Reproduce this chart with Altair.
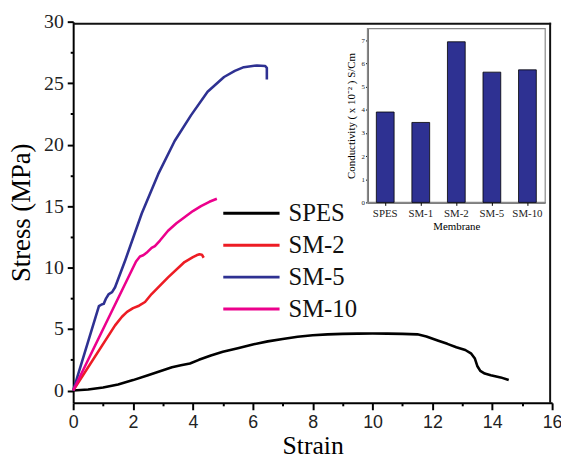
import altair as alt
import pandas as pd

# ---------------- data ----------------
series_names = ["SPES", "SM-2", "SM-5", "SM-10"]
series_colors = ["#000000", "#ed1c24", "#2e3192", "#ec008c"]

spes_x = [0, 0.5, 1.0, 1.5, 2.0, 2.5, 3.0, 3.3, 3.6, 3.9, 4.2, 4.6, 5.0, 5.5, 6.0, 6.5, 7.0, 7.5, 8.0, 8.5, 9.0, 9.5, 10.0, 10.5, 11.0, 11.5, 11.8, 12.2, 12.5, 12.8, 13.1, 13.3, 13.42, 13.5, 13.6, 13.75, 13.95, 14.28, 14.55]
spes_y = [0, 0.08, 0.25, 0.5, 0.85, 1.25, 1.65, 1.9, 2.05, 2.2, 2.5, 2.85, 3.15, 3.45, 3.75, 4.0, 4.2, 4.38, 4.5, 4.57, 4.61, 4.63, 4.64, 4.63, 4.61, 4.57, 4.4, 4.05, 3.8, 3.52, 3.3, 3.0, 2.6, 2.0, 1.6, 1.38, 1.25, 1.07, 0.86]

sm2_x = [0, 1.4, 1.63, 1.8, 2.0, 2.2, 2.4, 2.62, 3.17, 3.72, 4.0, 4.12, 4.22, 4.3, 4.36]
sm2_y = [0, 5.3, 6.0, 6.4, 6.7, 6.9, 7.2, 7.85, 9.2, 10.45, 10.85, 11.0, 11.08, 11.05, 10.8]

sm5_x = [0, 0.86, 0.95, 1.02, 1.1, 1.19, 1.3, 1.4, 1.74, 2.29, 2.84, 3.39, 3.94, 4.49, 5.04, 5.4, 5.70, 6.14, 6.41, 6.47, 6.47]
sm5_y = [0, 6.86, 7.0, 7.05, 7.5, 7.85, 8.0, 8.4, 10.6, 14.4, 17.6, 20.3, 22.4, 24.3, 25.5, 26.0, 26.3, 26.44, 26.4, 26.25, 25.3]

sm10_x = [0, 2.1, 2.23, 2.34, 2.45, 2.62, 2.73, 2.9, 3.17, 3.45, 3.72, 4.0, 4.27, 4.55, 4.80]
sm10_y = [0, 10.5, 10.9, 11.0, 11.2, 11.6, 11.75, 12.2, 13.0, 13.6, 14.1, 14.6, 15.0, 15.35, 15.6]

membranes = ["SPES", "SM-1", "SM-2", "SM-5", "SM-10"]
conductivity = [3.9, 3.45, 6.93, 5.62, 5.72]

x_ticks = list(range(0, 17))
y_ticks = [i * 2.5 for i in range(13)]

# ---------------- tables ----------------
rows = []
for name, xs, ys in [("SPES", spes_x, spes_y), ("SM-2", sm2_x, sm2_y),
                     ("SM-5", sm5_x, sm5_y), ("SM-10", sm10_x, sm10_y)]:
    for i, (a, b) in enumerate(zip(xs, ys)):
        rows.append({"series": name, "strain": a, "stress": b, "idx": i})
df_lines = pd.DataFrame(rows)
df_leg = pd.DataFrame({"series": series_names})
df_one = pd.DataFrame({"k": [1]})
df_bar = pd.DataFrame({"membrane": membranes, "cond": conductivity})

W, H = 485, 386
color = alt.Color("series:N", scale=alt.Scale(domain=series_names, range=series_colors), legend=None)

lines = alt.Chart(df_lines).mark_line(strokeWidth=2.6, strokeJoin="round").encode(
    x=alt.X("strain:Q",
            scale=alt.Scale(domain=[0, 16], nice=False, zero=False),
            axis=alt.Axis(orient="bottom", values=x_ticks, title="Strain",
                          labelExpr="datum.value % 2 === 0 ? datum.label : ''",
                          tickSize={"condition": {"test": "datum.value % 2 === 0", "value": 7}, "value": 3},
                          labelPadding=4, labelFont="Liberation Sans", labelFontSize=18,
                          labelFlush=False,
                          titleFont="Liberation Serif", titleFontSize=26, titleFontWeight="normal",
                          titlePadding=1, labelOverlap=False, grid=False,
                          domainColor="black", domainWidth=2, tickColor="black", tickWidth=2,
                          labelColor="#222")),
    y=alt.Y("stress:Q",
            scale=alt.Scale(domain=[-1, 30], nice=False, zero=False),
            axis=alt.Axis(orient="left", values=y_ticks, title="Stress (MPa)",
                          labelExpr="datum.value % 5 === 0 ? datum.label : ''",
                          tickSize={"condition": {"test": "datum.value % 5 === 0", "value": 6}, "value": 3},
                          labelPadding=4, labelFont="Liberation Serif", labelFontSize=20,
                          labelFlush=False,
                          titleFont="Liberation Serif", titleFontSize=27, titleFontWeight="normal",
                          titlePadding=8, labelOverlap=False, grid=False,
                          domainColor="black", domainWidth=2, tickColor="black", tickWidth=2,
                          labelColor="#222")),
    color=color,
    order=alt.Order("idx:Q"),
    detail="series:N",
)

leg_y = alt.Y("series:N", scale=alt.Scale(type="point", domain=series_names, range=[194, 291], padding=0), axis=None)

leg_rules = alt.Chart(df_leg).mark_rule(strokeWidth=3).encode(
    x=alt.value(152), x2=alt.value(209), y=leg_y, color=color)

leg_text = alt.Chart(df_leg).mark_text(align="left", baseline="middle", font="Liberation Serif",
                                       fontSize=25, color="#111").encode(
    x=alt.value(218), y=leg_y, text="series:N")

inset_frame = alt.Chart(df_one).mark_rect(fill=None, stroke="#888", strokeWidth=1.2).encode(
    x=alt.value(298), x2=alt.value(478), y=alt.value(7), y2=alt.value(183))

bars = alt.Chart(df_bar).mark_bar(color="#2e3192", stroke="black", strokeWidth=0.8).encode(
    x=alt.X("membrane:N",
            scale=alt.Scale(domain=membranes, range=[298, 478], paddingInner=0.5, paddingOuter=0.25),
            axis=alt.Axis(orient="bottom", offset=183 - H, title="Membrane", labelAngle=0,
                          labelFont="Liberation Serif", labelFontSize=11, labelPadding=2,
                          titleFont="Liberation Serif", titleFontSize=11, titleFontWeight="normal",
                          titlePadding=2, tickSize=3, domainColor="black", domainWidth=1.2,
                          tickColor="black", labelColor="#222")),
    y=alt.Y("cond:Q",
            scale=alt.Scale(domain=[0, 7.5], range=[183, 7], nice=False, zero=True),
            axis=alt.Axis(orient="left", offset=-298, values=list(range(8)),
                          title="Conductivity ( x 10⁻² ) S/Cm",
                          labelFont="Liberation Serif", labelFontSize=7, labelPadding=1,
                          titleFont="Liberation Serif", titleFontSize=11, titleFontWeight="normal",
                          titlePadding=5, tickSize=2, domainColor="black", domainWidth=1.2,
                          tickColor="black", grid=False, labelColor="#222")),
)

# plot frame: top and right edges
frame_top = alt.Chart(df_one).mark_rule(strokeWidth=2, color="#111111").encode(
    x=alt.value(0), x2=alt.value(W - 1), y=alt.value(2))
frame_right = alt.Chart(df_one).mark_rule(strokeWidth=2, color="#111111").encode(
    x=alt.value(W - 2), y=alt.value(1), y2=alt.value(H))

chart = alt.layer(lines, leg_rules, leg_text, inset_frame, bars, frame_top, frame_right).resolve_scale(
    x="independent", y="independent"
).properties(
    width=W, height=H,
    autosize=alt.AutoSizeParams(type="none"),
    padding={"left": 66, "top": 11, "right": 9, "bottom": 53},
    background="white",
).configure_view(stroke=None)

chart.save("out.html", embed_options={"renderer": "svg", "actions": False})
